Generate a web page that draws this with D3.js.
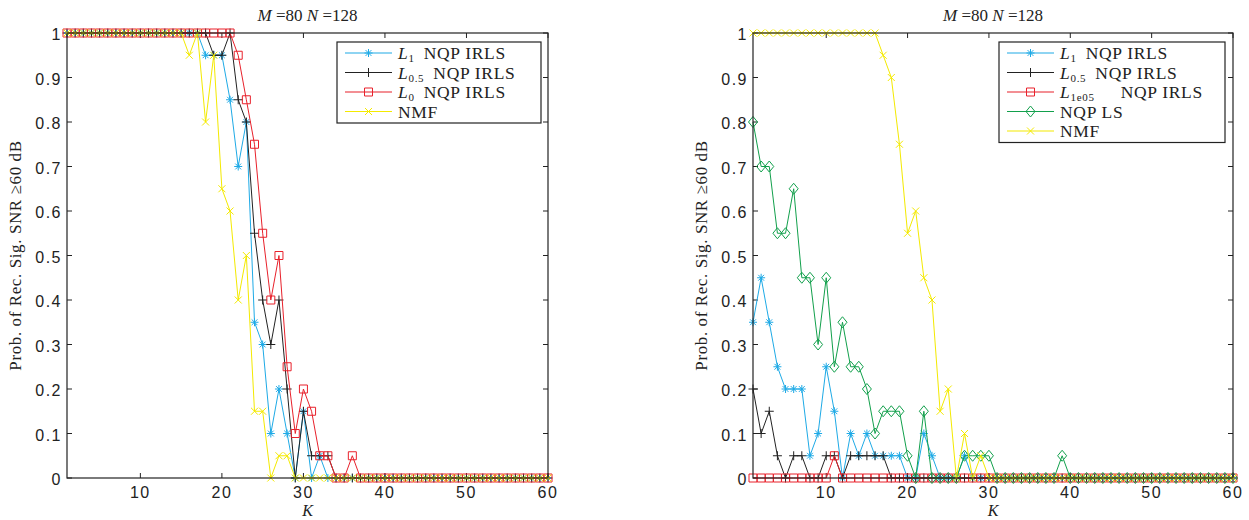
<!DOCTYPE html>
<html>
<head>
<meta charset="utf-8">
<script src="https://cdn.jsdelivr.net/npm/d3@7"></script>
<style>
  html, body { margin: 0; padding: 0; background: #fff; }
  svg { display: block; }
  .tick-label { font-family: "Liberation Sans", Arial, sans-serif; font-size: 16px; fill: #222; letter-spacing: 1.5px; }
  .serif { font-family: "Liberation Serif", "DejaVu Serif", serif; fill: #222; }
</style>
</head>
<body>
<svg id="chart" width="1249" height="520"></svg>
<script>
(function () {
    'use strict';

    // K = 1..60
    var K = d3.range(1, 61);

    var xTicks = [10, 20, 30, 40, 50, 60];
    var yTicks = [0, 0.1, 0.2, 0.3, 0.4, 0.5, 0.6, 0.7, 0.8, 0.9, 1];
    var yTickLabels = ["0", "0.1", "0.2", "0.3", "0.4", "0.5", "0.6", "0.7", "0.8", "0.9", "1"];

    function zeros(n) { return d3.range(n).map(function () { return 0; }); }
    function ones(n) { return d3.range(n).map(function () { return 1; }); }

    // left panel
    var l1Left = ones(17).concat([.95, .95, .95, .85, .70, .80, .35, .30, .10, .20, .10, 0, .15, 0, .05]).concat(zeros(28));
    var l05Left = ones(18).concat([.95, .95, 1, .85, .80, .55, .40, .30, .40, .20, 0, .15, .05, .05, .05]).concat(zeros(27));
    var l0Left = ones(21).concat([.95, .85, .75, .55, .40, .50, .25, .10, .20, .15, .05, .05, 0, 0, .05]).concat(zeros(24));
    var nmfLeft = ones(15).concat([.95, 1, .80, .95, .65, .60, .40, .50, .15, .15, 0, .05, .05]).concat(zeros(32));

    // right panel
    var l1Right = [.35, .45, .35, .25, .20, .20, .20, .05, .10, .25, .15, 0, .10, .05, .10, .05, .05, .05, .05, 0,
                   0, .10, .05, 0, 0, 0, .05].concat(zeros(33));
    var l05Right = [.20, .10, .15, .05, 0, .05, .05, 0, 0, .05, .05, 0, .05, .05, .05, .05, .05].concat(zeros(43));
    var l1e05Right = zeros(10).concat([.05]).concat(zeros(49));
    var lsRight = [.80, .70, .70, .55, .55, .65, .45, .45, .30, .45, .25, .35, .25, .25, .20, .10, .15, .15, .15, .05,
                   0, .15, 0, 0, 0, 0, .05, .05, .05, .05, 0, 0, 0, 0, 0, 0, 0, 0, .05].concat(zeros(21));
    var nmfRight = ones(16).concat([.95, .90, .75, .55, .60, .45, .40, .15, .20, 0, .10, 0, .05]).concat(zeros(31));

    var BLUE = "#1eaae6", BLACK = "#222222", RED = "#e8212b", GREEN = "#12a04c", YELLOW = "#f4ea00";

    var markers = {
        star: "M-4,0H4M0,-4V4M-2.9,-2.9L2.9,2.9M-2.9,2.9L2.9,-2.9",
        plus: "M-4.5,0H4.5M0,-4.5V4.5",
        square: "M-4,-4H4V4H-4Z",
        diamond: "M0,-5.5L4.5,0L0,5.5L-4.5,0Z",
        cross: "M-3.5,-3.5L3.5,3.5M-3.5,3.5L3.5,-3.5"
    };

    var svg = d3.select("#chart");
    var top = 33, bottom = 478;

    function legendLabel(sel, sub, gap) {
        sel.append("tspan").attr("font-style", "italic").text("L");
        sel.append("tspan").attr("font-size", "11px").attr("dy", 3).text(sub);
        sel.append("tspan").attr("dy", -3).attr("dx", gap).text("NQP IRLS");
    }

    function drawPanel(cfg) {
        var x = d3.scaleLinear().domain([1, 60]).range([cfg.x0, cfg.x1]);
        var y = d3.scaleLinear().domain([0, 1]).range([bottom, top]);
        var g = svg.append("g");

        // ticks (inside, on all four sides)
        xTicks.forEach(function (t) {
            g.append("line").attr("x1", x(t)).attr("x2", x(t)).attr("y1", bottom).attr("y2", bottom - 5)
                .attr("stroke", "#222");
            g.append("line").attr("x1", x(t)).attr("x2", x(t)).attr("y1", top).attr("y2", top + 5)
                .attr("stroke", "#222");
            g.append("text").attr("class", "tick-label").attr("x", x(t)).attr("y", bottom + 20)
                .attr("text-anchor", "middle").text(t);
        });
        yTicks.forEach(function (t, i) {
            g.append("line").attr("x1", cfg.x0).attr("x2", cfg.x0 + 5).attr("y1", y(t)).attr("y2", y(t))
                .attr("stroke", "#222");
            g.append("line").attr("x1", cfg.x1).attr("x2", cfg.x1 - 5).attr("y1", y(t)).attr("y2", y(t))
                .attr("stroke", "#222");
            g.append("text").attr("class", "tick-label").attr("x", cfg.x0 - 5).attr("y", y(t) + 7)
                .attr("text-anchor", "end").text(yTickLabels[i]);
        });

        // series
        var line = d3.line().x(function (d, i) { return x(K[i]); }).y(function (d) { return y(d); });
        cfg.series.forEach(function (s) {
            g.append("path").datum(s.values).attr("d", line)
                .attr("fill", "none").attr("stroke", s.color).attr("stroke-width", 1);
            g.selectAll(null).data(s.values).enter().append("path")
                .attr("d", markers[s.marker])
                .attr("transform", function (d, i) { return "translate(" + x(K[i]) + "," + y(d) + ")"; })
                .attr("fill", "none").attr("stroke", s.color).attr("stroke-width", 1);
        });

        // box
        g.append("rect").attr("x", cfg.x0).attr("y", top).attr("width", cfg.x1 - cfg.x0).attr("height", bottom - top)
            .attr("fill", "none").attr("stroke", "#222").attr("stroke-width", 1.2);

        // title
        var title = g.append("text").attr("class", "serif").attr("x", (cfg.x0 + cfg.x1) / 2).attr("y", 21)
            .attr("text-anchor", "middle").attr("font-size", "17px");
        title.append("tspan").attr("font-style", "italic").text("M");
        title.append("tspan").text(" =80 ");
        title.append("tspan").attr("font-style", "italic").text("N");
        title.append("tspan").text(" =128");

        // x label
        g.append("text").attr("class", "serif").attr("x", (cfg.x0 + cfg.x1) / 2).attr("y", 516)
            .attr("text-anchor", "middle").attr("font-size", "16px").attr("font-style", "italic").text("K");

        // y label
        g.append("text").attr("class", "serif")
            .attr("transform", "translate(" + (cfg.x0 - 46) + "," + ((top + bottom) / 2) + ") rotate(-90)")
            .attr("text-anchor", "middle").attr("font-size", "17px").attr("letter-spacing", "0.6px")
            .text("Prob. of Rec. Sig. SNR \u226560 dB");

        // legend
        var lg = g.append("g");
        var rowH = 19.5;
        lg.append("rect").attr("x", cfg.legend.x).attr("y", cfg.legend.y)
            .attr("width", cfg.legend.w).attr("height", cfg.series.length * rowH + 3)
            .attr("fill", "#fff").attr("stroke", "#222").attr("stroke-width", 1.2);
        cfg.series.forEach(function (s, i) {
            var cy = cfg.legend.y + 11 + i * rowH;
            var lx = cfg.legend.x + 8;
            lg.append("line").attr("x1", lx).attr("x2", lx + 47).attr("y1", cy).attr("y2", cy)
                .attr("stroke", s.color).attr("stroke-width", 1.2);
            lg.append("path").attr("d", markers[s.marker])
                .attr("transform", "translate(" + (lx + 23.5) + "," + cy + ")")
                .attr("fill", "none").attr("stroke", s.color);
            var t = lg.append("text").attr("class", "serif").attr("x", lx + 53).attr("y", cy + 6)
                .attr("font-size", "17.5px").attr("letter-spacing", "0.7px");
            if (s.sub !== null) legendLabel(t, s.sub, s.gap);
            else t.text(s.name);
        });
    }

    drawPanel({
        x0: 67, x1: 548,
        legend: { x: 337, y: 42, w: 204 },
        series: [
            { values: l1Left, color: BLUE, marker: "star", sub: "1", gap: 9 },
            { values: l05Left, color: BLACK, marker: "plus", sub: "0.5", gap: 9 },
            { values: l0Left, color: RED, marker: "square", sub: "0", gap: 9 },
            { values: nmfLeft, color: YELLOW, marker: "cross", sub: null, name: "NMF" }
        ]
    });

    drawPanel({
        x0: 753, x1: 1233,
        legend: { x: 999, y: 42, w: 226 },
        series: [
            { values: l1Right, color: BLUE, marker: "star", sub: "1", gap: 9 },
            { values: l05Right, color: BLACK, marker: "plus", sub: "0.5", gap: 9 },
            { values: l1e05Right, color: RED, marker: "square", sub: "1e05", gap: 26 },
            { values: lsRight, color: GREEN, marker: "diamond", sub: null, name: "NQP LS" },
            { values: nmfRight, color: YELLOW, marker: "cross", sub: null, name: "NMF" }
        ]
    });
})();
</script>
</body>
</html>
